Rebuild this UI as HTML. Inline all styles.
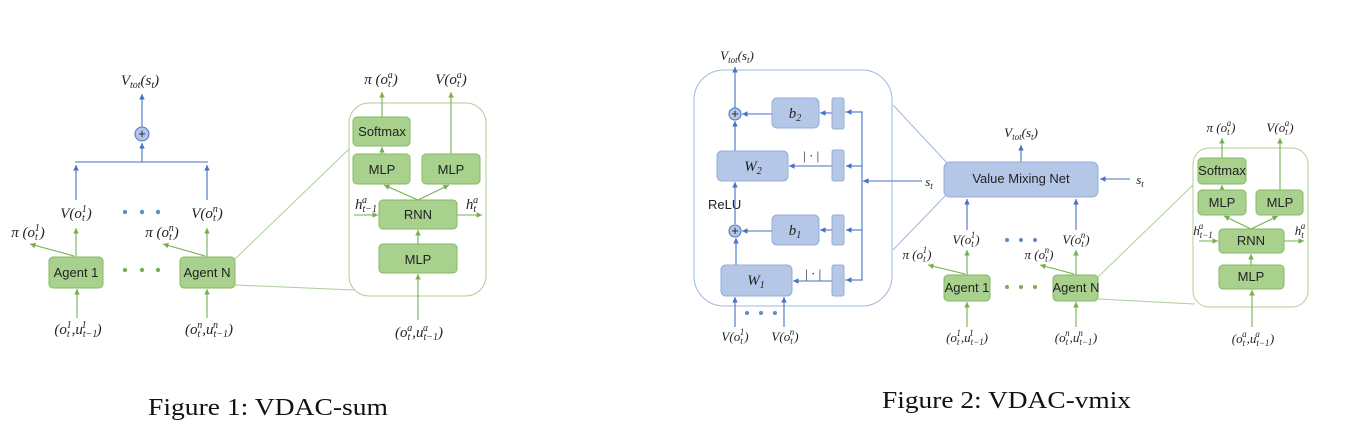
<!DOCTYPE html>
<html><head><meta charset="utf-8"><style>
html,body{margin:0;padding:0;background:#fff;}
svg{display:block}
.m{font-family:"Liberation Serif",serif;font-style:italic;font-size:15px;fill:#222}
.m2{font-family:"Liberation Serif",serif;font-style:italic;font-size:13px;fill:#222}
.s{font-size:10px}
.s2{font-size:9px}
.l{font-family:"Liberation Sans",sans-serif;font-size:13px;fill:#222}
.cap{font-family:"Liberation Serif",serif;font-size:24px;fill:#111}
.gb{fill:#a9d18e;stroke:#86b865;stroke-width:1}
.bb{fill:#b4c7e7;stroke:#94acd8;stroke-width:1}
.gl{stroke:#74b04e;stroke-width:1.1;fill:none}
.gt{stroke:#aed093;stroke-width:1;fill:none}
.bl{stroke:#4472c4;stroke-width:1.1;fill:none}
.bt{stroke:#9fb7df;stroke-width:1;fill:none}
</style></head><body>
<svg width="1359" height="440" viewBox="0 0 1359 440" xmlns="http://www.w3.org/2000/svg">
<defs>
<marker id="ag" markerWidth="6" markerHeight="6" refX="5" refY="3" orient="auto"><path d="M0,0.5 L5,3 L0,5.5z" fill="#74b04e"/></marker>
<marker id="ab" markerWidth="6" markerHeight="6" refX="5" refY="3" orient="auto"><path d="M0,0.5 L5,3 L0,5.5z" fill="#4472c4"/></marker>
</defs>

<!-- ============ FIGURE 1 ============ -->
<text class="m" x="140" y="85" text-anchor="middle">V<tspan class="s" dy="3">tot</tspan><tspan dy="-3">(s</tspan><tspan class="s" dy="3">t</tspan><tspan dy="-3">)</tspan></text>
<line class="bl" x1="142" y1="127" x2="142" y2="94" marker-end="url(#ab)"/>
<circle cx="142" cy="134" r="7" fill="#b4c7e7" stroke="#4472c4"/>
<text class="l" x="142" y="138" text-anchor="middle" font-size="11">+</text>
<line class="bl" x1="142" y1="162" x2="142" y2="143" marker-end="url(#ab)"/>
<line class="bl" x1="75" y1="162" x2="208" y2="162"/>
<line class="bl" x1="76" y1="200" x2="76" y2="165" marker-end="url(#ab)"/>
<line class="bl" x1="207" y1="200" x2="207" y2="165" marker-end="url(#ab)"/>
<text class="m" x="76" y="218" text-anchor="middle">V(o<tspan class="s" dy="3">t</tspan><tspan class="s" dx="-3" dy="-9">1</tspan><tspan dy="6">)</tspan></text>
<text class="m" x="207" y="218" text-anchor="middle">V(o<tspan class="s" dy="3">t</tspan><tspan class="s" dx="-3" dy="-9">n</tspan><tspan dy="6">)</tspan></text>
<circle cx="125" cy="212" r="2.2" fill="#5b8bd0"/><circle cx="142" cy="212" r="2.2" fill="#5b8bd0"/><circle cx="158" cy="212" r="2.2" fill="#5b8bd0"/>
<text class="m" x="28" y="237" text-anchor="middle">π (o<tspan class="s" dy="3">t</tspan><tspan class="s" dx="-3" dy="-9">1</tspan><tspan dy="6">)</tspan></text>
<text class="m" x="162" y="237" text-anchor="middle">π (o<tspan class="s" dy="3">t</tspan><tspan class="s" dx="-3" dy="-9">n</tspan><tspan dy="6">)</tspan></text>
<line class="gl" x1="76" y1="257" x2="76" y2="228" marker-end="url(#ag)"/>
<line class="gl" x1="207" y1="257" x2="207" y2="228" marker-end="url(#ag)"/>
<line class="gl" x1="74" y1="256" x2="30" y2="244" marker-end="url(#ag)"/>
<line class="gl" x1="205" y1="256" x2="163" y2="244" marker-end="url(#ag)"/>
<rect class="gb" x="49" y="257" width="54" height="31" rx="4"/>
<text class="l" x="76" y="277" text-anchor="middle">Agent 1</text>
<rect class="gb" x="180" y="257" width="55" height="31" rx="4"/>
<text class="l" x="207" y="277" text-anchor="middle">Agent N</text>
<circle cx="125" cy="270" r="2.2" fill="#74b04e"/><circle cx="142" cy="270" r="2.2" fill="#74b04e"/><circle cx="158" cy="270" r="2.2" fill="#74b04e"/>
<line class="gl" x1="77" y1="318" x2="77" y2="289" marker-end="url(#ag)"/>
<line class="gl" x1="207" y1="318" x2="207" y2="289" marker-end="url(#ag)"/>
<text class="m" x="78" y="334" text-anchor="middle">(o<tspan class="s" dy="3">t</tspan><tspan class="s" dx="-3" dy="-9">1</tspan><tspan dy="6">,u</tspan><tspan class="s" dy="3">t−1</tspan><tspan class="s" dx="-15" dy="-9">1</tspan><tspan dx="10" dy="6">)</tspan></text>
<text class="m" x="209" y="334" text-anchor="middle">(o<tspan class="s" dy="3">t</tspan><tspan class="s" dx="-3" dy="-9">n</tspan><tspan dy="6">,u</tspan><tspan class="s" dy="3">t−1</tspan><tspan class="s" dx="-15" dy="-9">n</tspan><tspan dx="10" dy="6">)</tspan></text>

<!-- inset 1 -->
<rect class="gt" x="349" y="103" width="137" height="193" rx="20"/>
<line class="gt" x1="235" y1="259" x2="349" y2="149"/>
<line class="gt" x1="235" y1="285" x2="354" y2="290"/>
<text class="m" x="381" y="84" text-anchor="middle">π (o<tspan class="s" dy="3">t</tspan><tspan class="s" dx="-3" dy="-9">a</tspan><tspan dy="6">)</tspan></text>
<text class="m" x="451" y="84" text-anchor="middle">V(o<tspan class="s" dy="3">t</tspan><tspan class="s" dx="-3" dy="-9">a</tspan><tspan dy="6">)</tspan></text>
<line class="gl" x1="382" y1="117" x2="382" y2="92" marker-end="url(#ag)"/>
<line class="gl" x1="451" y1="154" x2="451" y2="92" marker-end="url(#ag)"/>
<rect class="gb" x="353" y="117" width="57" height="29" rx="4"/>
<text class="l" x="382" y="136" text-anchor="middle">Softmax</text>
<line class="gl" x1="382" y1="154" x2="382" y2="147" marker-end="url(#ag)"/>
<rect class="gb" x="353" y="154" width="57" height="30" rx="4"/>
<text class="l" x="382" y="174" text-anchor="middle">MLP</text>
<rect class="gb" x="422" y="154" width="58" height="30" rx="4"/>
<text class="l" x="451" y="174" text-anchor="middle">MLP</text>
<line class="gl" x1="418" y1="200" x2="384" y2="185" marker-end="url(#ag)"/>
<line class="gl" x1="418" y1="200" x2="449" y2="185" marker-end="url(#ag)"/>
<rect class="gb" x="379" y="200" width="78" height="29" rx="4"/>
<text class="l" x="418" y="219" text-anchor="middle">RNN</text>
<line class="gl" x1="354" y1="215" x2="378" y2="215" marker-end="url(#ag)"/>
<line class="gl" x1="457" y1="215" x2="482" y2="215" marker-end="url(#ag)"/>
<text class="m" x="366" y="209" text-anchor="middle">h<tspan class="s" dy="3">t−1</tspan><tspan class="s" dx="-15" dy="-9">a</tspan><tspan dx="10"> </tspan></text>
<text class="m" x="472" y="209" text-anchor="middle">h<tspan class="s" dy="3">t</tspan><tspan class="s" dx="-3" dy="-9">a</tspan></text>
<line class="gl" x1="418" y1="244" x2="418" y2="230" marker-end="url(#ag)"/>
<rect class="gb" x="379" y="244" width="78" height="29" rx="4"/>
<text class="l" x="418" y="264" text-anchor="middle">MLP</text>
<line class="gl" x1="418" y1="320" x2="418" y2="274" marker-end="url(#ag)"/>
<text class="m" x="419" y="337" text-anchor="middle">(o<tspan class="s" dy="3">t</tspan><tspan class="s" dx="-3" dy="-9">a</tspan><tspan dy="6">,u</tspan><tspan class="s" dy="3">t−1</tspan><tspan class="s" dx="-15" dy="-9">a</tspan><tspan dx="10" dy="6">)</tspan></text>

<text class="cap" x="148" y="415" textLength="240" lengthAdjust="spacingAndGlyphs">Figure 1: VDAC-sum</text>

<!-- ============ FIGURE 2 ============ -->
<text class="m2" x="737" y="60" text-anchor="middle">V<tspan class="s2" dy="3">tot</tspan><tspan dy="-3">(s</tspan><tspan class="s2" dy="3">t</tspan><tspan dy="-3">)</tspan></text>
<rect class="bt" x="694" y="70" width="198" height="236" rx="30"/>
<line class="bl" x1="735" y1="108" x2="735" y2="67" marker-end="url(#ab)"/>
<circle cx="735" cy="114" r="6" fill="#b4c7e7" stroke="#4472c4"/>
<text class="l" x="735" y="118" text-anchor="middle" font-size="10">+</text>
<line class="bl" x1="772" y1="114" x2="742" y2="114" marker-end="url(#ab)"/>
<rect class="bb" x="772" y="98" width="47" height="30" rx="5"/>
<text class="m" x="795" y="118" text-anchor="middle">b<tspan class="s" dy="3">2</tspan></text>
<line class="bl" x1="832" y1="113" x2="820" y2="113" marker-end="url(#ab)"/>
<rect class="bb" x="832" y="98" width="12" height="31" rx="2"/>
<line class="bl" x1="735" y1="151" x2="735" y2="121" marker-end="url(#ab)"/>
<rect class="bb" x="717" y="151" width="71" height="30" rx="5"/>
<text class="m" x="753" y="171" text-anchor="middle">W<tspan class="s" dy="3">2</tspan></text>
<line class="bl" x1="832" y1="166" x2="789" y2="166" marker-end="url(#ab)"/>
<rect class="bb" x="832" y="150" width="12" height="31" rx="2"/>
<text class="m2" x="811" y="160" text-anchor="middle">| · |</text>
<text class="l" x="708" y="209" font-size="11">ReLU</text>
<line class="bl" x1="735" y1="224" x2="735" y2="182" marker-end="url(#ab)"/>
<circle cx="735" cy="231" r="6" fill="#b4c7e7" stroke="#4472c4"/>
<text class="l" x="735" y="235" text-anchor="middle" font-size="10">+</text>
<line class="bl" x1="772" y1="231" x2="742" y2="231" marker-end="url(#ab)"/>
<rect class="bb" x="772" y="215" width="47" height="30" rx="5"/>
<text class="m" x="795" y="235" text-anchor="middle">b<tspan class="s" dy="3">1</tspan></text>
<line class="bl" x1="832" y1="230" x2="820" y2="230" marker-end="url(#ab)"/>
<rect class="bb" x="832" y="215" width="12" height="30" rx="2"/>
<line class="bl" x1="736" y1="265" x2="736" y2="238" marker-end="url(#ab)"/>
<rect class="bb" x="721" y="265" width="71" height="31" rx="5"/>
<text class="m" x="756" y="285" text-anchor="middle">W<tspan class="s" dy="3">1</tspan></text>
<line class="bl" x1="832" y1="281" x2="793" y2="281" marker-end="url(#ab)"/>
<rect class="bb" x="832" y="265" width="12" height="31" rx="2"/>
<text class="m2" x="813" y="278" text-anchor="middle">| · |</text>
<!-- bus -->
<polyline class="bl" points="845,112 862,112 862,280 845,280"/>
<line class="bl" x1="862" y1="112" x2="846" y2="112" marker-end="url(#ab)"/>
<line class="bl" x1="862" y1="166" x2="846" y2="166" marker-end="url(#ab)"/>
<line class="bl" x1="862" y1="230" x2="846" y2="230" marker-end="url(#ab)"/>
<line class="bl" x1="862" y1="280" x2="846" y2="280" marker-end="url(#ab)"/>
<line class="bl" x1="922" y1="181" x2="863" y2="181" marker-end="url(#ab)"/>
<text class="m2" x="929" y="186" text-anchor="middle">s<tspan class="s2" dy="3">t</tspan></text>
<line class="bl" x1="735" y1="327" x2="735" y2="297" marker-end="url(#ab)"/>
<line class="bl" x1="784" y1="327" x2="784" y2="297" marker-end="url(#ab)"/>
<circle cx="747" cy="313" r="2" fill="#5b8bd0"/><circle cx="761" cy="313" r="2" fill="#5b8bd0"/><circle cx="775" cy="313" r="2" fill="#5b8bd0"/>
<text class="m2" x="735" y="341" text-anchor="middle">V(o<tspan class="s2" dy="3">t</tspan><tspan class="s2" dx="-3" dy="-9">1</tspan><tspan dy="6">)</tspan></text>
<text class="m2" x="785" y="341" text-anchor="middle">V(o<tspan class="s2" dy="3">t</tspan><tspan class="s2" dx="-3" dy="-9">n</tspan><tspan dy="6">)</tspan></text>
<!-- connectors to VMN -->
<line class="bt" x1="893" y1="105" x2="948" y2="164"/>
<line class="bt" x1="893" y1="250" x2="946" y2="195"/>
<!-- VMN -->
<text class="m2" x="1021" y="137" text-anchor="middle">V<tspan class="s2" dy="3">tot</tspan><tspan dy="-3">(s</tspan><tspan class="s2" dy="3">t</tspan><tspan dy="-3">)</tspan></text>
<line class="bl" x1="1021" y1="162" x2="1021" y2="145" marker-end="url(#ab)"/>
<rect class="bb" x="944" y="162" width="154" height="35" rx="6"/>
<text class="l" x="1021" y="183" text-anchor="middle" font-size="11">Value Mixing Net</text>
<line class="bl" x1="1130" y1="179" x2="1100" y2="179" marker-end="url(#ab)"/>
<text class="m2" x="1140" y="184" text-anchor="middle">s<tspan class="s2" dy="3">t</tspan></text>
<line class="bl" x1="967" y1="230" x2="967" y2="199" marker-end="url(#ab)"/>
<line class="bl" x1="1076" y1="230" x2="1076" y2="199" marker-end="url(#ab)"/>
<text class="m2" x="966" y="244" text-anchor="middle">V(o<tspan class="s2" dy="3">t</tspan><tspan class="s2" dx="-3" dy="-9">1</tspan><tspan dy="6">)</tspan></text>
<text class="m2" x="1076" y="244" text-anchor="middle">V(o<tspan class="s2" dy="3">t</tspan><tspan class="s2" dx="-3" dy="-9">n</tspan><tspan dy="6">)</tspan></text>
<circle cx="1007" cy="240" r="2" fill="#5b8bd0"/><circle cx="1021" cy="240" r="2" fill="#5b8bd0"/><circle cx="1035" cy="240" r="2" fill="#5b8bd0"/>
<text class="m2" x="917" y="259" text-anchor="middle">π (o<tspan class="s2" dy="3">t</tspan><tspan class="s2" dx="-3" dy="-9">1</tspan><tspan dy="6">)</tspan></text>
<text class="m2" x="1039" y="259" text-anchor="middle">π (o<tspan class="s2" dy="3">t</tspan><tspan class="s2" dx="-3" dy="-9">n</tspan><tspan dy="6">)</tspan></text>
<line class="gl" x1="967" y1="275" x2="967" y2="250" marker-end="url(#ag)"/>
<line class="gl" x1="1076" y1="275" x2="1076" y2="250" marker-end="url(#ag)"/>
<line class="gl" x1="965" y1="274" x2="928" y2="265" marker-end="url(#ag)"/>
<line class="gl" x1="1074" y1="274" x2="1040" y2="265" marker-end="url(#ag)"/>
<rect class="gb" x="944" y="275" width="46" height="26" rx="4"/>
<text class="l" x="967" y="292" text-anchor="middle" font-size="12">Agent 1</text>
<rect class="gb" x="1053" y="275" width="45" height="26" rx="4"/>
<text class="l" x="1076" y="292" text-anchor="middle" font-size="12">Agent N</text>
<circle cx="1007" cy="287" r="2" fill="#74b04e"/><circle cx="1021" cy="287" r="2" fill="#74b04e"/><circle cx="1035" cy="287" r="2" fill="#74b04e"/>
<line class="gl" x1="967" y1="327" x2="967" y2="302" marker-end="url(#ag)"/>
<line class="gl" x1="1076" y1="327" x2="1076" y2="302" marker-end="url(#ag)"/>
<text class="m2" x="967" y="342" text-anchor="middle">(o<tspan class="s2" dy="3">t</tspan><tspan class="s2" dx="-3" dy="-9">1</tspan><tspan dy="6">,u</tspan><tspan class="s2" dy="3">t−1</tspan><tspan class="s2" dx="-14" dy="-9">1</tspan><tspan dx="10" dy="6">)</tspan></text>
<text class="m2" x="1076" y="342" text-anchor="middle">(o<tspan class="s2" dy="3">t</tspan><tspan class="s2" dx="-3" dy="-9">n</tspan><tspan dy="6">,u</tspan><tspan class="s2" dy="3">t−1</tspan><tspan class="s2" dx="-14" dy="-9">n</tspan><tspan dx="10" dy="6">)</tspan></text>

<!-- inset 2 -->
<rect class="gt" x="1193" y="148" width="115" height="159" rx="16"/>
<line class="gt" x1="1098" y1="277" x2="1193" y2="185"/>
<line class="gt" x1="1098" y1="299" x2="1195" y2="304"/>
<text class="m2" x="1221" y="132" text-anchor="middle">π (o<tspan class="s2" dy="3">t</tspan><tspan class="s2" dx="-3" dy="-9">a</tspan><tspan dy="6">)</tspan></text>
<text class="m2" x="1280" y="132" text-anchor="middle">V(o<tspan class="s2" dy="3">t</tspan><tspan class="s2" dx="-3" dy="-9">a</tspan><tspan dy="6">)</tspan></text>
<line class="gl" x1="1222" y1="158" x2="1222" y2="138" marker-end="url(#ag)"/>
<line class="gl" x1="1280" y1="190" x2="1280" y2="138" marker-end="url(#ag)"/>
<rect class="gb" x="1198" y="158" width="48" height="26" rx="4"/>
<text class="l" x="1222" y="175" text-anchor="middle" font-size="11">Softmax</text>
<line class="gl" x1="1222" y1="190" x2="1222" y2="185" marker-end="url(#ag)"/>
<rect class="gb" x="1198" y="190" width="48" height="25" rx="4"/>
<text class="l" x="1222" y="207" text-anchor="middle" font-size="11">MLP</text>
<rect class="gb" x="1256" y="190" width="47" height="25" rx="4"/>
<text class="l" x="1280" y="207" text-anchor="middle" font-size="11">MLP</text>
<line class="gl" x1="1251" y1="229" x2="1224" y2="216" marker-end="url(#ag)"/>
<line class="gl" x1="1251" y1="229" x2="1278" y2="216" marker-end="url(#ag)"/>
<rect class="gb" x="1219" y="229" width="65" height="24" rx="4"/>
<text class="l" x="1251" y="245" text-anchor="middle" font-size="11">RNN</text>
<line class="gl" x1="1199" y1="241" x2="1218" y2="241" marker-end="url(#ag)"/>
<line class="gl" x1="1284" y1="241" x2="1304" y2="241" marker-end="url(#ag)"/>
<text class="m2" x="1203" y="235" text-anchor="middle">h<tspan class="s2" dy="3">t−1</tspan><tspan class="s2" dx="-14" dy="-9">a</tspan><tspan dx="9"> </tspan></text>
<text class="m2" x="1300" y="235" text-anchor="middle">h<tspan class="s2" dy="3">t</tspan><tspan class="s2" dx="-3" dy="-9">a</tspan></text>
<line class="gl" x1="1251" y1="265" x2="1251" y2="254" marker-end="url(#ag)"/>
<rect class="gb" x="1219" y="265" width="65" height="24" rx="4"/>
<text class="l" x="1251" y="281" text-anchor="middle" font-size="11">MLP</text>
<line class="gl" x1="1252" y1="327" x2="1252" y2="290" marker-end="url(#ag)"/>
<text class="m2" x="1253" y="343" text-anchor="middle">(o<tspan class="s2" dy="3">t</tspan><tspan class="s2" dx="-3" dy="-9">a</tspan><tspan dy="6">,u</tspan><tspan class="s2" dy="3">t−1</tspan><tspan class="s2" dx="-14" dy="-9">a</tspan><tspan dx="10" dy="6">)</tspan></text>

<text class="cap" x="882" y="408" textLength="249" lengthAdjust="spacingAndGlyphs">Figure 2: VDAC-vmix</text>
</svg>
</body></html>
